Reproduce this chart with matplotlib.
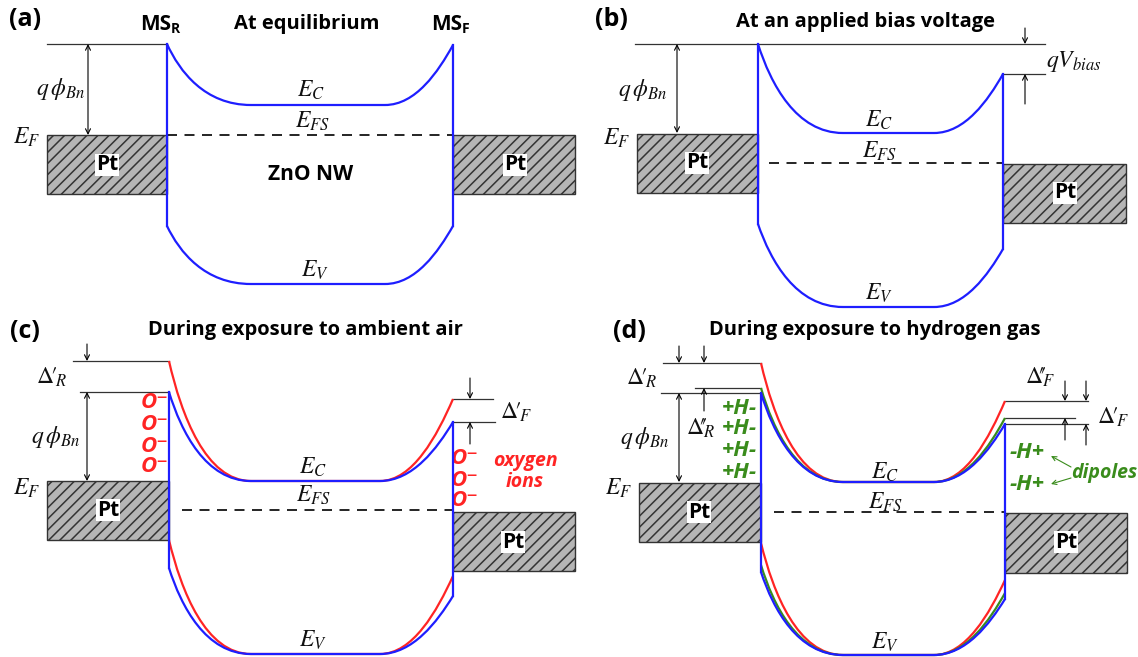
import numpy as np
import matplotlib.pyplot as plt
from matplotlib.path import Path
from matplotlib.patches import PathPatch, Rectangle

plt.rcParams['mathtext.fontset'] = 'stix'
plt.rcParams['hatch.linewidth'] = 1.1

COLORS = {'blue': '#1e1eff', 'red': '#ff2424', 'green': '#3a8c1c'}
SANS = 'Open Sans'

# everything is in pixel units of the original picture, y grows downward
# panel order: a, b, c, d
x_left = [167, 758, 169, 761]
x_right = [453, 1003, 453, 1005]
flat_start = [251, 843, 251, 843]
flat_end = [385, 934, 380, 934]
ec_flat = [105, 133, 481, 482]
ev_flat = [284, 307, 654, 655]
efs_level = [135, 163, 510, 512]
efs_start = [167, 769, 182, 774]

# band edges at the two interfaces, one entry per drawn curve
curve_panel = [2, 3, 3, 0, 1, 2, 3]
curve_color = ['red', 'red', 'green', 'blue', 'blue', 'blue', 'blue']
ec_left_top = [361, 363, 388, 44, 44, 392, 393]
ec_right_top = [399, 401, 418, 45, 74, 422, 424]
ev_left_top = [540, 543, 565, 226, 224, 568, 572]
ev_right_top = [576, 580, 593, 226, 249, 596, 599]

# Pt contacts
pt_x0 = [47, 453, 637, 1003, 47, 453, 639, 1005]
pt_x1 = [167, 575, 758, 1126, 169, 575, 761, 1127]
pt_top = [135, 135, 134, 164, 481, 512, 483, 513]
pt_bot = [194, 194, 193, 223, 540, 571, 542, 573]
pt_label_x = [107, 515, 697, 1065, 108, 513, 699, 1066]
pt_label_y = [165, 165, 163, 193, 510, 542, 512, 542]

# thin reference levels: x from, x to, y
ref_x0 = [47, 635, 1002, 73, 80, 453, 453, 663, 695, 661, 1005, 1005, 1005]
ref_x1 = [167, 1045, 1045, 169, 169, 493, 495, 761, 761, 761, 1088, 1075, 1088]
ref_y = [44, 44, 74, 361, 392, 399, 422, 363, 388, 393, 401, 418, 424]

# arrows: x, from, to
dbl_x = [88, 677, 87, 679]
dbl_y0 = [44, 44, 392, 393]
dbl_y1 = [135, 133, 481, 482]
arr_x = [1025, 1025, 87, 470, 470, 679, 704, 704, 1065, 1086, 1065, 1086]
arr_y0 = [28, 104, 344, 378, 444, 346, 346, 411, 381, 381, 440, 445]
arr_y1 = [44, 74, 361, 399, 422, 363, 363, 388, 401, 401, 418, 424]

# barrier change labels
delta_x = [52, 516, 642, 701, 1040, 1113]
delta_y = [377, 412, 378, 428, 377, 417]
delta_text = [r'$\Delta\!\prime_{\!R}$', r'$\Delta\!\prime_{\!F}$', r'$\Delta\!\prime_{\!R}$',
              r'$\Delta\!\prime\!\!\!\prime_{\!R}$', r'$\Delta\!\prime\!\!\!\prime_{\!F}$',
              r'$\Delta\!\prime_{\!F}$']


def bend(x0, y0, x1, y1, a, b, c):
    # cubic from an interface (x0, y0) to the flat band at (x1, y1)
    w, h = x1 - x0, y1 - y0
    return [(x0 + a * w, y0 + b * h), (x0 + c * w, y1), (x1, y1)]


def band_path(xl, xr, f0, f1, yl, yr, yflat):
    verts = [(xl, yl)]
    verts += bend(xl, yl, f0, yflat, 0.15, 0.45, 0.45)
    verts += [(f1, yflat)]
    right = bend(xr, yr, f1, yflat, 0.22, 0.45, 0.55)
    verts += [right[1], right[0], (xr, yr)]
    codes = [Path.MOVETO] + [Path.CURVE4] * 3 + [Path.LINETO] + [Path.CURVE4] * 3
    return Path(verts, codes)


fig = plt.figure(figsize=(11.38, 6.57), dpi=100)
ax = fig.add_axes([0, 0, 1, 1])
ax.set_xlim(0, 1138)
ax.set_ylim(657, 0)
ax.axis('off')

for i in range(len(pt_x0)):
    ax.add_patch(Rectangle((pt_x0[i], pt_top[i]), pt_x1[i] - pt_x0[i], pt_bot[i] - pt_top[i],
                           facecolor='#b5b5b5', edgecolor='#333333', hatch='///', lw=1.0, zorder=1))
    ax.text(pt_label_x[i], pt_label_y[i], 'Pt', family=SANS, weight='bold', fontsize=15,
            ha='center', va='center', zorder=3,
            bbox=dict(boxstyle='square,pad=0.04', facecolor='white', edgecolor='none'))

for i in range(len(ref_y)):
    ax.plot([ref_x0[i], ref_x1[i]], [ref_y[i], ref_y[i]], color='#333333', lw=0.9, zorder=2)

for p in range(4):
    ax.plot([efs_start[p], x_right[p]], [efs_level[p], efs_level[p]], color='black',
            lw=1.2, dashes=(6, 4.5), zorder=2)

for k in range(len(curve_panel)):
    p = curve_panel[k]
    col = COLORS[curve_color[k]]
    z = 4 if curve_color[k] == 'blue' else 3
    ec = band_path(x_left[p], x_right[p], flat_start[p], flat_end[p],
                   ec_left_top[k], ec_right_top[k], ec_flat[p])
    ev = band_path(x_left[p], x_right[p], flat_start[p], flat_end[p],
                   ev_left_top[k], ev_right_top[k], ev_flat[p])
    ax.add_patch(PathPatch(ec, fill=False, edgecolor=col, lw=1.6, zorder=z))
    ax.add_patch(PathPatch(ev, fill=False, edgecolor=col, lw=1.6, zorder=z))
    if curve_color[k] == 'blue':
        ax.plot([x_left[p]] * 2, [ec_left_top[k], ev_left_top[k]], color=col, lw=1.6, zorder=z)
        ax.plot([x_right[p]] * 2, [ec_right_top[k], ev_right_top[k]], color=col, lw=1.6, zorder=z)

for i in range(len(dbl_x)):
    ax.annotate('', xy=(dbl_x[i], dbl_y1[i]), xytext=(dbl_x[i], dbl_y0[i]),
                arrowprops=dict(arrowstyle='<->', lw=0.8, color='black', shrinkA=0, shrinkB=0,
                                mutation_scale=9))
for i in range(len(arr_x)):
    ax.annotate('', xy=(arr_x[i], arr_y1[i]), xytext=(arr_x[i], arr_y0[i]),
                arrowprops=dict(arrowstyle='->', lw=0.8, color='black', shrinkA=0, shrinkB=0,
                                mutation_scale=9))

# panel letters and titles
for lab, x, y in [('(a)', 25, 19), ('(b)', 611, 19), ('(c)', 25, 331), ('(d)', 629, 331)]:
    ax.text(x, y, lab, family=SANS, weight='bold', fontsize=18, ha='center', va='center')
for lab, x, y in [('At equilibrium', 307, 24), ('At an applied bias voltage', 866, 22),
                  ('During exposure to ambient air', 305, 330),
                  ('During exposure to hydrogen gas', 875, 330)]:
    ax.text(x, y, lab, family=SANS, weight='bold', fontsize=14.5, ha='center', va='center')
ax.text(311, 174, 'ZnO NW', family=SANS, weight='bold', fontsize=15, ha='center', va='center')
for x, sub in [(156, 'R'), (447, 'F')]:
    ax.text(x, 24, 'MS', family=SANS, weight='bold', fontsize=15, ha='center', va='center')
    ax.text(x + 19, 29, sub, family=SANS, weight='bold', fontsize=10, ha='center', va='center')

# math labels
math_labels = [
    (r'$E_C$', 311, 90), (r'$E_{FS}$', 312, 121), (r'$E_V$', 315, 270),
    (r'$q\,\phi_{Bn}$', 61, 89), (r'$E_F$', 27, 137),
    (r'$E_C$', 879, 120), (r'$E_{FS}$', 879, 151), (r'$E_V$', 879, 293),
    (r'$q\,\phi_{Bn}$', 643, 90), (r'$E_F$', 617, 138), (r'$qV_{bias}$', 1074, 62),
    (r'$E_C$', 313, 467), (r'$E_{FS}$', 313, 495), (r'$E_V$', 313, 640),
    (r'$q\,\phi_{Bn}$', 56, 437), (r'$E_F$', 27, 488),
    (r'$E_C$', 885, 472), (r'$E_{FS}$', 885, 502), (r'$E_V$', 885, 642),
    (r'$q\,\phi_{Bn}$', 645, 438), (r'$E_F$', 619, 488),
]
for s, x, y in math_labels:
    ax.text(x, y, s, fontsize=17, ha='center', va='center', color='#111111')
for s, x, y in zip(delta_text, delta_x, delta_y):
    ax.text(x, y, s, fontsize=17, ha='center', va='center', color='#111111')

# adsorbed oxygen ions
ox_x = [155, 155, 155, 155, 465, 465, 465]
ox_y = [403, 425, 446, 467, 459, 480, 500]
for x, y in zip(ox_x, ox_y):
    ax.text(x, y, 'O\u207b', family=[SANS, 'DejaVu Sans'], weight='bold', style='italic',
            fontsize=16, color=COLORS['red'], ha='center', va='center')
ax.text(525, 461, 'oxygen', family=SANS, weight='bold', style='italic', fontsize=14,
        color=COLORS['red'], ha='center', va='center')
ax.text(525, 482, 'ions', family=SANS, weight='bold', style='italic', fontsize=14,
        color=COLORS['red'], ha='center', va='center')

# hydrogen dipoles
for y in [408, 429, 450, 472]:
    ax.text(739, y, '+H-', family=SANS, weight='bold', style='italic', fontsize=16,
            color=COLORS['green'], ha='center', va='center')
for y in [453, 485]:
    ax.text(1027, y, '-H+', family=SANS, weight='bold', style='italic', fontsize=16,
            color=COLORS['green'], ha='center', va='center')
ax.text(1104, 473, 'dipoles', family=SANS, weight='bold', style='italic', fontsize=14,
        color=COLORS['green'], ha='center', va='center')
for y0, y1 in [(467, 456), (478, 484)]:
    ax.annotate('', xy=(1051, y1), xytext=(1071, y0),
                arrowprops=dict(arrowstyle='->', lw=0.8, color=COLORS['green'],
                                shrinkA=0, shrinkB=0, mutation_scale=8))

fig.savefig('out.png', dpi=100)
